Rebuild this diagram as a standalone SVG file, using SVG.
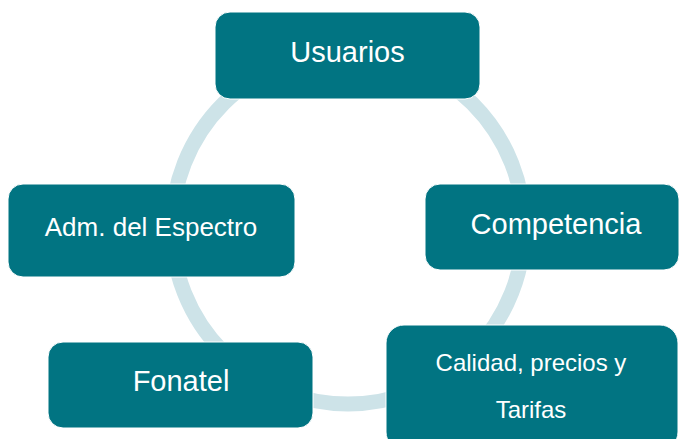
<svg xmlns="http://www.w3.org/2000/svg" width="681" height="439" viewBox="0 0 681 439">
<style>
.box{fill:#017482;stroke:#ffffff;stroke-width:1}
.t{fill:#ffffff;font-family:"Liberation Sans",Arial,sans-serif;text-anchor:middle}
.big{font-size:29px}
.mid{font-size:26px}
.sm{font-size:24px}
</style>
<rect width="681" height="439" fill="#ffffff"/>
<g id="connectors">
<circle cx="348" cy="228" r="176" fill="none" stroke="#cde3e8" stroke-width="15"/>
</g>
<g id="usuarios">
<rect class="box" x="215" y="12" width="265" height="87" rx="15"/>
<text class="t big" x="347.5" y="62">Usuarios</text>
</g>
<g id="adm">
<rect class="box" x="8" y="184" width="287" height="93" rx="15"/>
<text class="t mid" x="151" y="236">Adm. del Espectro</text>
</g>
<g id="competencia">
<rect class="box" x="425" y="184" width="254" height="86" rx="15"/>
<text class="t big" x="556" y="234">Competencia</text>
</g>
<g id="fonatel">
<rect class="box" x="48" y="342" width="265" height="86" rx="15"/>
<text class="t big" x="181" y="391">Fonatel</text>
</g>
<g id="calidad">
<rect class="box" x="386" y="325" width="292" height="125" rx="18"/>
<text class="t sm" x="531" y="371">Calidad, precios y</text>
<text class="t sm" x="531" y="418">Tarifas</text>
</g>
</svg>
